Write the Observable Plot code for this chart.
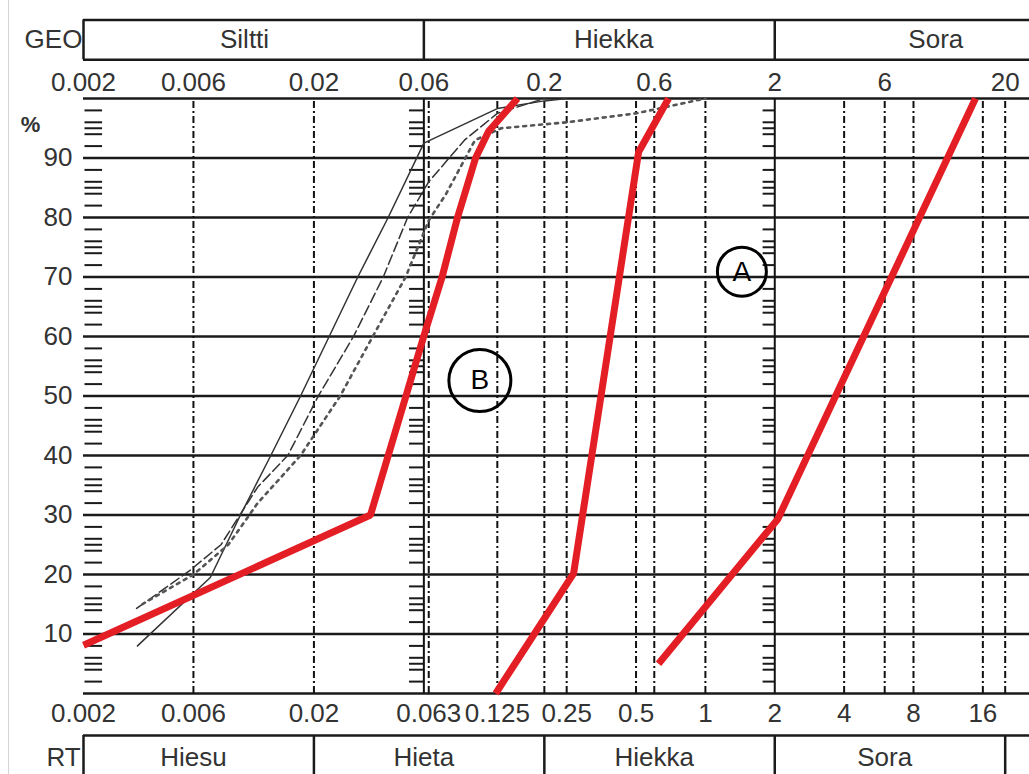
<!DOCTYPE html>
<html>
<head>
<meta charset="utf-8">
<script src="https://cdn.jsdelivr.net/npm/d3@7"></script>
<script src="https://cdn.jsdelivr.net/npm/@observablehq/plot@0.6"></script>
<style>
  html, body { margin: 0; padding: 0; background: #fff; }
  #wrap { position: relative; width: 1029px; height: 774px; overflow: hidden; }
  #edge { position: absolute; left: 8px; top: 0; width: 1px; height: 774px; background: #d4d4d4; }
</style>
</head>
<body>
<div id="wrap"><div id="edge"></div></div>
<script>
// ---- tick labels / categories ----
const xTopTicks = [0.002, 0.006, 0.02, 0.06, 0.2, 0.6, 2, 6, 20];
const xBottomTicks = [0.002, 0.006, 0.02, 0.063, 0.125, 0.25, 0.5, 1, 2, 4, 8, 16];
const yTicks = [10, 20, 30, 40, 50, 60, 70, 80, 90];
const solidGrid = [0.06, 2];
const dashGrid = [0.006, 0.02, 0.063, 0.125, 0.2, 0.25, 0.5, 0.6, 1, 4, 6, 8, 16, 20];

const geoNames = ["Siltti", "Hiekka", "Sora"];
const geoCenters = [0.01, 0.4, 10];
const geoBounds = [0.002, 0.06, 2];
const rtNames = ["Hiesu", "Hieta", "Hiekka", "Sora"];
const rtCenters = [0.006, 0.06, 0.6, 6];
const rtBounds = [0.002, 0.02, 0.2, 2, 20];

// ---- red envelope curves (grain size mm, passing %) ----
const redB_x = [0.002, 0.0352, 0.0599, 0.072, 0.084, 0.1006, 0.1146, 0.153];
const redB_y = [8.1, 30, 60, 70, 80, 90, 94.5, 100];
const redM_x = [0.123, 0.268, 0.513, 0.692];
const redM_y = [0, 20.2, 91, 100];
const redA_x = [0.626, 2.06, 14.86];
const redA_y = [5.0, 29.3, 100];

// ---- grey sample curves ----
const g1_x = [0.00343, 0.0071, 0.0096, 0.013, 0.0175, 0.031, 0.042, 0.06, 0.125, 0.2, 0.25];
const g1_y = [8.0, 19.5, 30, 40, 50, 70, 80, 92.5, 98.3, 99.6, 100];
const g2_x = [0.0034, 0.0058, 0.0079, 0.0094, 0.0114, 0.0154, 0.0209, 0.0297, 0.040, 0.051, 0.063, 0.09, 0.125, 0.2];
const g2_y = [14.3, 20.7, 25, 29.6, 34.7, 40, 50, 60, 70, 80, 86, 93, 97.5, 100];
const g3_x = [0.0036, 0.006, 0.0085, 0.0114, 0.0175, 0.026, 0.036, 0.05, 0.063, 0.075, 0.1, 0.13, 0.25, 0.5, 1];
const g3_y = [15, 20, 25, 32, 40, 50, 60, 70, 79.5, 84, 93, 95, 96, 97.5, 100];

// ---- circled annotations ----
const notes = ["A", "B"];
const notes_x = [1.44, 0.105];
const notes_y = [70.9, 52.6];

const pts = (xs, ys) => xs.map((x, i) => ({x, y: ys[i]}));
const minorY = d3.range(1, 100).filter(v => v % 10 !== 0 && (v % 2 === 0 || v % 5 === 0));

const RED = "#e41e25";
const INK = "#1a1a1a";
const TXT = "#333";

const chart = Plot.plot({
  width: 1029,
  height: 774,
  marginLeft: 83,
  marginRight: 0,
  marginTop: 98,
  marginBottom: 81,
  x: {type: "log", domain: [0.002, 25.5], axis: null},
  y: {domain: [0, 100]},
  style: {fontFamily: "'Liberation Sans', Arial, sans-serif", fontSize: "26px", color: TXT, background: "transparent"},
  marks: [
    // grid
    Plot.ruleY(yTicks, {stroke: INK, strokeWidth: 2.5}),
    Plot.ruleY([0, 100], {stroke: INK, strokeWidth: 2.5}),
    Plot.ruleX(dashGrid, {y1: 0, y2: 100, stroke: "#111", strokeWidth: 2, strokeDasharray: "7,3,2,3"}),
    Plot.ruleX(solidGrid, {y1: 0, y2: 100, stroke: "#111", strokeWidth: 2}),
    // minor tick ladders
    Plot.ruleY(minorY, {x1: 0.00203, x2: 0.00242, stroke: INK, strokeWidth: 2}),
    Plot.ruleY(minorY, {x1: 0.052, x2: 0.06, stroke: INK, strokeWidth: 2}),
    Plot.ruleY(minorY, {x1: 1.78, x2: 2, stroke: INK, strokeWidth: 2}),
    // grey sample curves
    Plot.line(pts(g1_x, g1_y), {x: "x", y: "y", stroke: "#333", strokeWidth: 1.5}),
    Plot.line(pts(g2_x, g2_y), {x: "x", y: "y", stroke: "#333", strokeWidth: 1.5, strokeDasharray: "10,4"}),
    Plot.line(pts(g3_x, g3_y), {x: "x", y: "y", stroke: "#555", strokeWidth: 2.6, strokeDasharray: "3,5"}),
    // red curves
    Plot.line(pts(redB_x, redB_y), {x: "x", y: "y", stroke: RED, strokeWidth: 7, strokeLinejoin: "miter", strokeLinecap: "butt"}),
    Plot.line(pts(redM_x, redM_y), {x: "x", y: "y", stroke: RED, strokeWidth: 7, strokeLinejoin: "miter", strokeLinecap: "butt"}),
    Plot.line(pts(redA_x, redA_y), {x: "x", y: "y", stroke: RED, strokeWidth: 7, strokeLinejoin: "miter", strokeLinecap: "butt"}),
    // circled notes
    Plot.dot([0], {x: notes_x[0], y: notes_y[0], r: 24.5, stroke: "#000", strokeWidth: 3, fill: "none"}),
    Plot.dot([0], {x: notes_x[1], y: notes_y[1], r: 31, stroke: "#000", strokeWidth: 3, fill: "none"}),
    Plot.text(notes, {x: (d, i) => notes_x[i], y: (d, i) => notes_y[i], text: d => d, fontSize: 28, fill: "#000"}),
    // x tick labels (top and bottom scales)
    Plot.text(xTopTicks, {x: d => d, y: 102.6, text: d => String(d), fill: TXT}),
    Plot.text(xBottomTicks, {x: d => d, y: -3.4, text: d => String(d), fill: TXT}),
    Plot.axisY({ticks: yTicks, tickSize: 0, tickPadding: 11, label: null}),
    Plot.text(["%"], {x: 0.002, y: 95.5, dx: -53, text: d => d, fontSize: 22, fontWeight: "bold", fill: TXT}),
    // GEO band
    Plot.ruleY([106.5, 113.2], {x1: 0.002, x2: 25.5, stroke: INK, strokeWidth: 2.5}),
    Plot.ruleX(geoBounds, {y1: 106.5, y2: 113.2, stroke: INK, strokeWidth: 2.5}),
    Plot.text(geoNames, {x: (d, i) => geoCenters[i], y: 109.85, text: d => d, fill: TXT}),
    Plot.text(["GEO"], {x: 0.002, y: 109.85, dx: -30, text: d => d, fill: TXT}),
    // RT band
    Plot.ruleY([-7.06], {x1: 0.002, x2: 25.5, stroke: INK, strokeWidth: 2.5}),
    Plot.ruleX(rtBounds, {y1: -7.06, y2: -14, stroke: INK, strokeWidth: 2.5}),
    Plot.text(rtNames, {x: (d, i) => rtCenters[i], y: -10.8, text: d => d, fill: TXT}),
    Plot.text(["RT"], {x: 0.002, y: -10.8, dx: -20, text: d => d, fill: TXT})
  ]
});
document.getElementById("wrap").appendChild(chart);
</script>
</body>
</html>
